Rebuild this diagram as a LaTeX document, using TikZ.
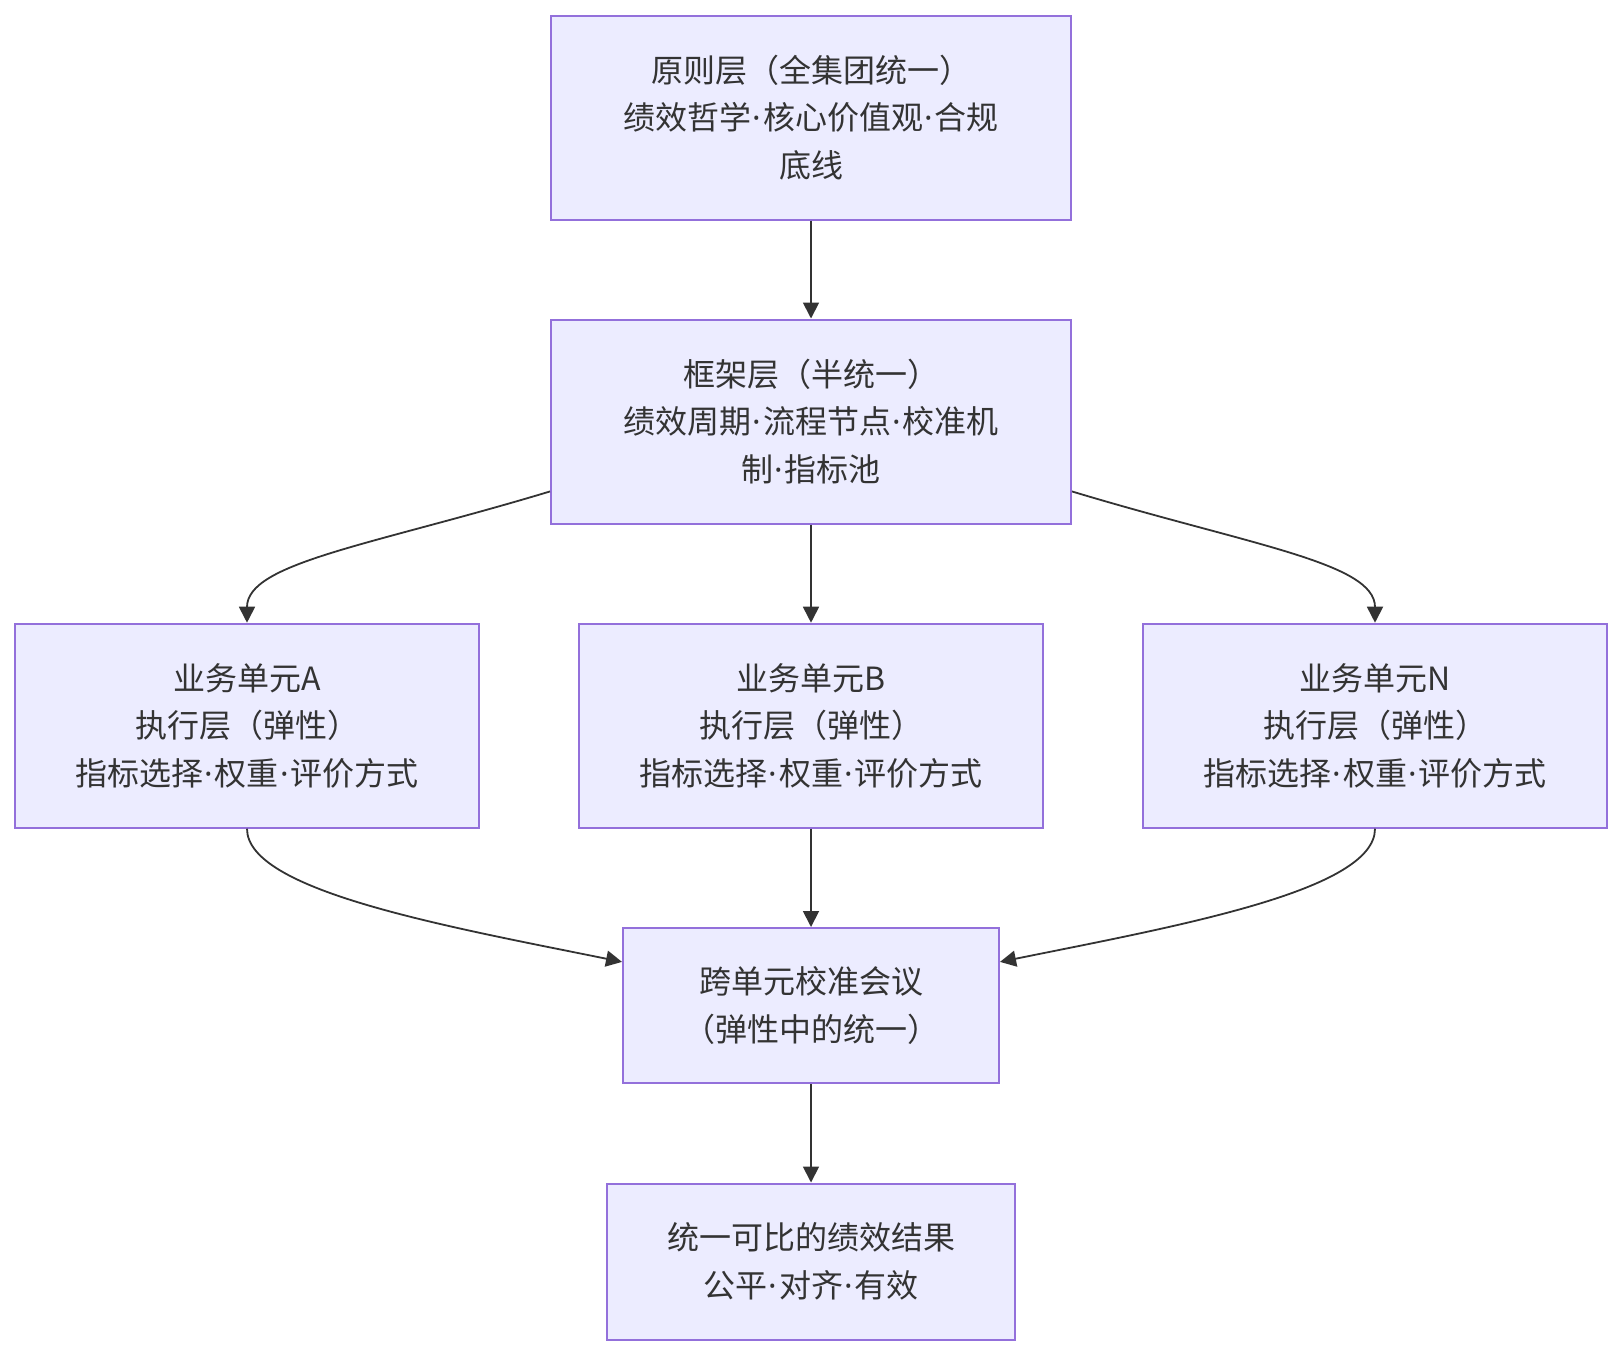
\documentclass[tikz,border=0pt]{standalone}
\usepackage{fontspec}
\setmainfont{Noto Sans CJK SC}
\newfontfamily\latina{Noto Sans}
\usetikzlibrary{positioning,arrows.meta,calc}
\definecolor{caixafundo}{HTML}{ECECFF}
\definecolor{caixaborda}{HTML}{9370DB}
\definecolor{linha}{HTML}{333333}
\newcommand{\ponto}{\makebox[0.36em]{\latina ·}}

\begin{document}
\begin{tikzpicture}[x=0.5pt,y=-0.5pt,
    camada/.style={draw=caixaborda, fill=caixafundo, line width=1pt, inner sep=0pt,
        align=center, text=linha, font=\fontsize{16pt}{23.8pt}\selectfont},
    seta/.style={draw=linha, line width=0.9pt, -{Triangle[length=8pt,width=8pt]}}]
        \useasboundingbox (0,0) rectangle (1622,1356);

        % Camadas
        \node[camada, minimum width=260pt, minimum height=102pt] (principio) at (811,117.5)
            {原则层（全集团统一）\\ 绩效哲学\ponto 核心价值观\ponto 合规\\ 底线};
        \node[camada, minimum width=260pt, minimum height=102pt] (quadro) at (811,421.5)
            {框架层（半统一）\\ 绩效周期\ponto 流程节点\ponto 校准机\\ 制\ponto 指标池};

        % Unidades
        \node[camada, minimum width=232pt, minimum height=102pt] (unidA) at (247,725.7)
            {业务单元A\\ 执行层（弹性）\\ 指标选择\ponto 权重\ponto 评价方式};
        \node[camada, minimum width=232pt, minimum height=102pt] (unidB) at (811,725.7)
            {业务单元B\\ 执行层（弹性）\\ 指标选择\ponto 权重\ponto 评价方式};
        \node[camada, minimum width=232pt, minimum height=102pt] (unidN) at (1375,725.7)
            {业务单元N\\ 执行层（弹性）\\ 指标选择\ponto 权重\ponto 评价方式};

        % Calibracao e resultado
        \node[camada, minimum width=188pt, minimum height=77.5pt] (calib) at (811,1005.5)
            {跨单元校准会议\\ （弹性中的统一）};
        \node[camada, minimum width=204pt, minimum height=78pt] (result) at (811,1261.5)
            {统一可比的绩效结果\\ 公平\ponto 对齐\ponto 有效};

        % Setas
        \draw[seta] (principio) -- (quadro);
        \draw[seta] (quadro.195) .. controls +(-179,54) and +(0,-60) .. (unidA.north);
        \draw[seta] (quadro) -- (unidB);
        \draw[seta] (quadro.345) .. controls +(179,54) and +(0,-60) .. (unidN.north);
        \draw[seta] (unidA.south) .. controls +(0,62) and +(-178,-36) .. (calib.167);
        \draw[seta] (unidB) -- (calib);
        \draw[seta] (unidN.south) .. controls +(0,62) and +(178,-36) .. (calib.13);
        \draw[seta] (calib) -- (result);

\end{tikzpicture}
\end{document}
